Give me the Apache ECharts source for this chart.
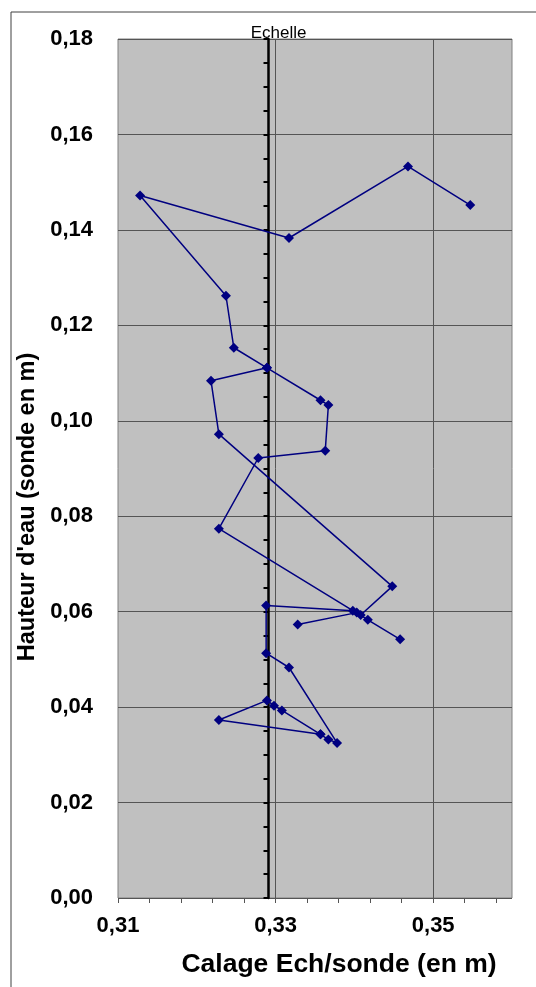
<!DOCTYPE html>
<html>
<head>
<meta charset="utf-8">
<script src="https://cdn.jsdelivr.net/npm/echarts@6/dist/echarts.min.js"></script>
<style>
  html, body { margin: 0; padding: 0; background: #fff; }
  #chart { width: 536px; height: 987px; }
</style>
</head>
<body>
<div id="chart"></div>
<script>
// readings in plotting order, null = break in the line
var calage = [
    0.3547, 0.3468, 0.3317, 0.3128, 0.3237, 0.3247, 0.3289, 0.3218, 0.3228, 0.3448, 0.3408, 0.3417, 0.3458,
    null,
    0.3289, 0.3357, 0.3367, 0.3363, 0.3278, 0.3228, 0.3398, 0.3288, 0.3288, 0.3317, 0.3378, 0.3367, 0.3357,
    0.3308, 0.3298, 0.3289, 0.3228, 0.3357,
    null,
    0.3328, 0.3403
];
var hauteur = [
    0.1452, 0.1533, 0.1383, 0.1472, 0.1262, 0.1153, 0.1111, 0.1084, 0.0972, 0.0653, 0.0593, 0.0583, 0.0542,
    null,
    0.1111, 0.1043, 0.1033, 0.0937, 0.0922, 0.0774, 0.0602, 0.0613, 0.0513, 0.0483, 0.0325, 0.0332, 0.0343,
    0.0393, 0.0403, 0.0414, 0.0373, 0.0343,
    null,
    0.0573, 0.0598
];

var echelleX = 0.3291;
var xLabels = [0.31, 0.33, 0.35];
var xTicks = [0.31, 0.314, 0.318, 0.322, 0.326, 0.33, 0.334, 0.338, 0.342, 0.346, 0.35, 0.354, 0.358];
var xGrid = [0.33, 0.35];

var points = calage.map(function (x, i) {
    return x === null ? ['-', '-'] : [x, hauteur[i]];
});

function fmt(v) {
    return v.toFixed(2).replace('.', ',');
}

var labelFont = {
    fontFamily: 'Arial, "Liberation Sans", sans-serif',
    fontWeight: 'bold',
    color: '#000'
};

var myChart = echarts.init(document.getElementById('chart'));
var option = {
    animation: false,
    backgroundColor: '#fff',
    graphic: [{
        type: 'rect',
        shape: { x: 11, y: 12, width: 600, height: 1000 },
        style: { fill: 'none', stroke: '#404040', lineWidth: 1 },
        z: -1
    }],
    grid: {
        left: 118,
        right: 24,
        top: 39,
        bottom: 89,
        show: true,
        backgroundColor: '#c0c0c0',
        borderColor: '#808080',
        borderWidth: 1
    },
    xAxis: [{
        type: 'value',
        min: 0.31,
        max: 0.36,
        name: 'Calage Ech/sonde (en m)',
        nameLocation: 'middle',
        nameGap: 53,
        nameTextStyle: Object.assign({ fontSize: 26.5, padding: [0, 0, 0, 48] }, labelFont),
        axisLine: { show: false },
        axisTick: { show: true, length: 5, customValues: xTicks, lineStyle: { color: '#555' } },
        axisLabel: Object.assign({ fontSize: 22, margin: 17, customValues: xLabels, formatter: fmt }, labelFont),
        splitLine: { show: false }
    }, {
        type: 'value',
        min: 0.31,
        max: 0.36,
        axisLine: { show: false },
        axisTick: { show: false, customValues: xGrid },
        axisLabel: { show: false, customValues: xGrid },
        splitLine: { show: true, lineStyle: { color: '#555', width: 1 } }
    }],
    yAxis: [{
        type: 'value',
        min: 0,
        max: 0.18,
        interval: 0.02,
        name: "Hauteur d'eau (sonde en m)",
        nameLocation: 'middle',
        nameGap: 70,
        nameTextStyle: Object.assign({ fontSize: 23.5, padding: [0, 77, 0, 0] }, labelFont),
        axisLine: { show: false },
        axisTick: { show: false },
        axisLabel: Object.assign({ fontSize: 22, margin: 25, formatter: fmt }, labelFont),
        splitLine: { show: true, lineStyle: { color: '#555', width: 1 } }
    }, {
        type: 'value',
        position: 'left',
        min: 0,
        max: 0.18,
        interval: 0.005,
        name: 'Echelle',
        nameLocation: 'end',
        nameGap: -3,
        nameTextStyle: { fontSize: 17, color: '#000', fontFamily: 'Arial, "Liberation Sans", sans-serif', padding: [0, 0, 0, 20] },
        axisLine: { show: true, lineStyle: { color: '#000', width: 2.5 } },
        axisTick: { show: true, length: 5, lineStyle: { color: '#000', width: 2 } },
        axisLabel: { show: false },
        splitLine: { show: false },
        z: 3
    }],
    series: [{
        type: 'line',
        xAxisIndex: 0,
        yAxisIndex: 0,
        data: points,
        connectNulls: false,
        symbol: 'diamond',
        symbolSize: 10,
        showAllSymbol: true,
        lineStyle: { color: '#000080', width: 1.5 },
        itemStyle: { color: '#000080' },
        z: 5
    }]
};
myChart.setOption(option);

// put the Echelle axis at its x value
var px0 = myChart.convertToPixel({ xAxisIndex: 0 }, 0.31);
var pxE = myChart.convertToPixel({ xAxisIndex: 0 }, echelleX);
myChart.setOption({ yAxis: [{}, { offset: px0 - pxE }] });

window.addEventListener('resize', myChart.resize);
</script>
</body>
</html>
